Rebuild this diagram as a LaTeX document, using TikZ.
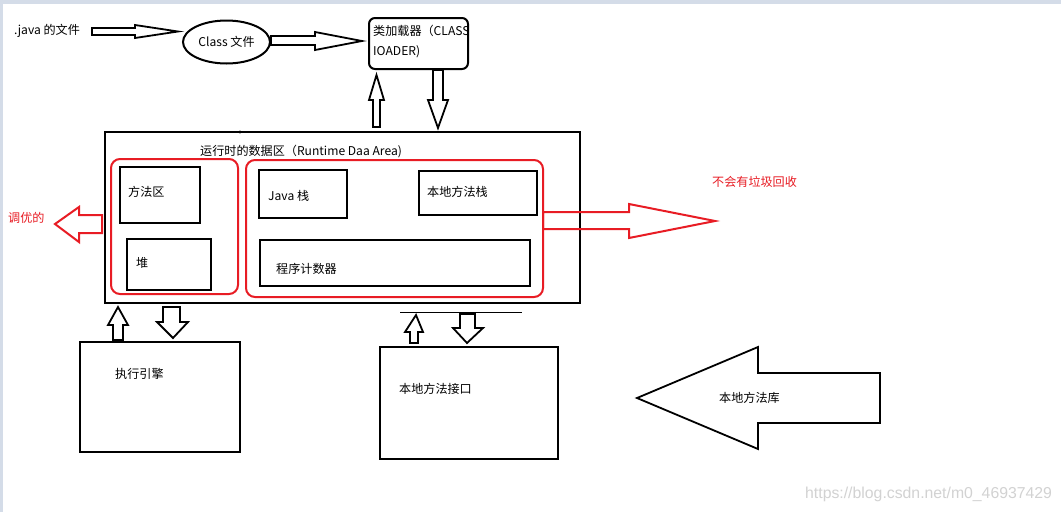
\documentclass[tikz,border=0pt]{standalone}
\usepackage{fontspec}
\setmainfont{Noto Sans CJK SC}
\newfontfamily\wmfont{Liberation Sans}
\usetikzlibrary{shapes.geometric,fit}
\definecolor{redline}{RGB}{232,28,36}
\definecolor{frame}{RGB}{212,220,232}
\definecolor{wm}{RGB}{210,210,210}
\tikzset{
 blk/.style={draw=black,line width=2pt,inner sep=0pt},
 redbox/.style={draw=redline,line width=2pt,rounded corners=9pt,inner sep=0pt},
 harrow/.style={draw=black,line width=1.8pt,fill=white,line join=miter},
 rarrow/.style={draw=redline,line width=2pt,line join=miter},
 lbl/.style={font=\fontsize{12.1}{14}\selectfont,inner sep=0pt,anchor=west},
 redlbl/.style={lbl,text=redline},
}
\begin{document}
\begin{tikzpicture}[x=1pt,y=-1pt]
\useasboundingbox (0,0) rectangle (1061,512);
\fill[white] (0,0) rectangle (1061,512);
\fill[frame] (0,0) rectangle (1061,4);
\fill[frame] (0,0) rectangle (3,512);

% top row
\node[lbl] (java) at (14,31) {.java 的文件};
\node[draw,line width=2pt,ellipse,minimum width=87pt,minimum height=43pt,inner sep=0pt,font=\fontsize{12.1}{14}\selectfont] (cls) at (226.5,42) {Class 文件};
\node[lbl] (ldt1) at (373,31) {类加载器（CLASS};
\node[lbl] (ldt2) at (373,52) {IOADER)};
\node[blk,rounded corners=6pt,fit={(369,18)(468,69)}] (loader) {};

\draw[harrow] (92,28) -- (135,28) -- (135,25) -- (178,31.5) -- (135,38) -- (135,35) -- (92,35) -- cycle;
\draw[harrow] (271,36) -- (315,36) -- (315,32) -- (362,41) -- (315,50) -- (315,45) -- (271,45) -- cycle;
\draw[harrow] (373,127) -- (373,100) -- (369,100) -- (376.5,75) -- (384,100) -- (380,100) -- (380,127) -- cycle;
\draw[harrow] (433,70) -- (443,70) -- (443,100) -- (448,100) -- (438,128) -- (428,100) -- (433,100) -- cycle;

% main runtime area
\node[blk,fit={(105,132)(580,303)}] (main) {};
\fill (240,132) circle (1.6pt);
\node[lbl] (title) at (200,152) {运行时的数据区（Runtime Daa Area)};

\node[redbox,fit={(111,159)(238,294)}] (lgrp) {};
\node[redbox,fit={(246,160)(543,297)}] (rgrp) {};

\node[blk,fit={(120,167)(200,223)}] (method) {};
\node[lbl] (methodt) at (128,192) {方法区};
\node[blk,fit={(127,239)(211,290)}] (heap) {};
\node[lbl] (heapt) at (136,263) {堆};
\node[blk,fit={(259,170)(347,218)}] (jstack) {};
\node[lbl] (jstackt) at (268,196) {Java 栈};
\node[blk,fit={(419,171)(537,215)}] (nstack) {};
\node[lbl] (nstackt) at (427,192) {本地方法栈};
\node[blk,fit={(260,240)(530,286)}] (pc) {};
\node[lbl] (pct) at (276,269) {程序计数器};

% red arrows
\draw[rarrow] (102,215) -- (79,215) -- (79,207) -- (55,224) -- (79,242) -- (79,233) -- (102,233) -- cycle;
\node[redlbl] (tune) at (8,218) {调优的};
\draw[rarrow] (543,212) -- (629,212) -- (629,204) -- (715,221) -- (629,238) -- (629,229) -- (543,229) -- cycle;
\node[redlbl] (nogc) at (712,182) {不会有垃圾回收};

% execution engine
\draw[harrow] (113,340) -- (113,325) -- (108,325) -- (118,307) -- (128,325) -- (123,325) -- (123,340) -- cycle;
\draw[harrow] (163,307) -- (180,307) -- (180,322) -- (188,322) -- (173,338) -- (157,322) -- (163,322) -- cycle;
\node[blk,fit={(80,342)(240,452)}] (engine) {};
\node[lbl] (enginet) at (115,374) {执行引擎};

% native interface
\draw[line width=1pt] (400,312) -- (522,312);
\draw[harrow] (410,343) -- (410,332) -- (405,332) -- (416,315) -- (423,332) -- (418,332) -- (418,343) -- cycle;
\draw[harrow] (460,314) -- (475,314) -- (475,328) -- (483,328) -- (467,343) -- (453,328) -- (460,328) -- cycle;
\node[blk,fit={(380,347)(558,459)}] (nif) {};
\node[lbl] (nift) at (399,389) {本地方法接口};

% native library arrow
\draw[harrow] (637,398) -- (758,347) -- (758,373) -- (880,373) -- (880,423) -- (758,423) -- (758,449) -- cycle;
\node[lbl] (nlibt) at (719,398) {本地方法库};

\node[anchor=west,inner sep=0pt,text=wm,font=\wmfont\fontsize{15.8}{18}\selectfont] (wmk) at (805,494) {https://blog.csdn.net/m0\_46937429};
\end{tikzpicture}
\end{document}
